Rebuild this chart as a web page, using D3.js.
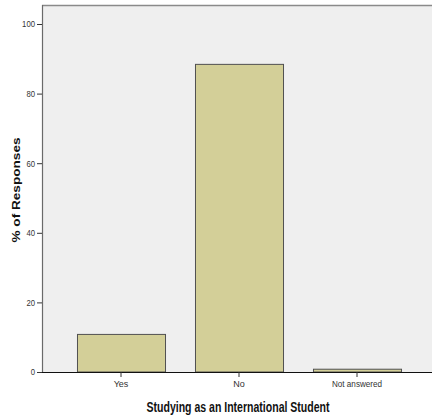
<!DOCTYPE html>
<html><head><meta charset="utf-8">
<script src="https://cdn.jsdelivr.net/npm/d3@7"></script>
<style>body{margin:0;background:#fff}svg{display:block}</style>
</head><body><svg id="c" width="432" height="417"></svg>
<script>
const categories = ["Yes", "No", "Not answered"];
const values = [10.8, 88.4, 0.8];
const yTicks = [0, 20, 40, 60, 80, 100];
const xTitle = "Studying as an International Student";
const yTitle = "% of Responses";

const svg = d3.select("#c");
const L = 42, R = 432, T = 5, B = 372;
const y = d3.scaleLinear().domain([0, 100]).range([B, 24]);
const x = d3.scaleBand().domain(categories).range([62, 416]).paddingInner(0.254).paddingOuter(0.127);

svg.append("rect").attr("x", L).attr("y", T).attr("width", R - L).attr("height", B - T).attr("fill", "#efefef");
svg.append("line").attr("x1", L).attr("x2", R).attr("y1", T + 0.5).attr("y2", T + 0.5).attr("stroke", "#8a8a8a").attr("stroke-width", 1.5);

svg.selectAll("rect.bar").data(values).enter().append("rect").attr("class", "bar")
  .attr("x", (d, i) => x(categories[i]) + 0.5)
  .attr("y", d => y(d))
  .attr("width", x.bandwidth())
  .attr("height", d => B - y(d))
  .attr("fill", "#d3cf98").attr("stroke", "#505050").attr("stroke-width", 1);

const tickFont = "'Liberation Sans Narrow','Arial Narrow',sans-serif";
const yAxis = svg.append("g").attr("transform", `translate(${L},0)`)
  .call(d3.axisLeft(y).tickValues(yTicks).tickSize(5).tickPadding(2));
yAxis.select(".domain").attr("d", `M0.5,${T}V${B}`).attr("stroke", "#6a6a6a").attr("stroke-width", 1.2);
yAxis.selectAll("text").attr("font-family", tickFont).attr("font-size", 9).attr("fill", "#333")
  .attr("textLength", d => String(d).length * 4.3).attr("lengthAdjust", "spacingAndGlyphs");
yAxis.selectAll(".tick line").attr("stroke", "#333");

const xAxis = svg.append("g").attr("transform", `translate(0,${B})`)
  .call(d3.axisBottom(x).tickSize(5).tickPadding(4));
xAxis.select(".domain").attr("d", `M${L},0.5H${R}`).attr("stroke", "#111").attr("stroke-width", 1.2);
xAxis.selectAll("text").attr("font-family", tickFont).attr("font-size", 9).attr("fill", "#333")
  .attr("textLength", d => d === "Not answered" ? 50 : null).attr("lengthAdjust", "spacingAndGlyphs");
xAxis.selectAll(".tick line").attr("stroke", "#333");

svg.append("text").attr("x", 238).attr("y", 412).attr("text-anchor", "middle")
  .attr("font-family", "'Liberation Sans',Arial,sans-serif").attr("font-weight", "bold").attr("font-size", 14)
  .attr("textLength", 183).attr("lengthAdjust", "spacingAndGlyphs")
  .attr("fill", "#111").text(xTitle);
svg.append("text").attr("transform", "translate(19.5,190) rotate(-90)").attr("text-anchor", "middle")
  .attr("font-family", "'Liberation Sans',Arial,sans-serif").attr("font-weight", "bold").attr("font-size", 11.5)
  .attr("textLength", 105).attr("lengthAdjust", "spacingAndGlyphs")
  .attr("fill", "#111").text(yTitle);
</script></body></html>
